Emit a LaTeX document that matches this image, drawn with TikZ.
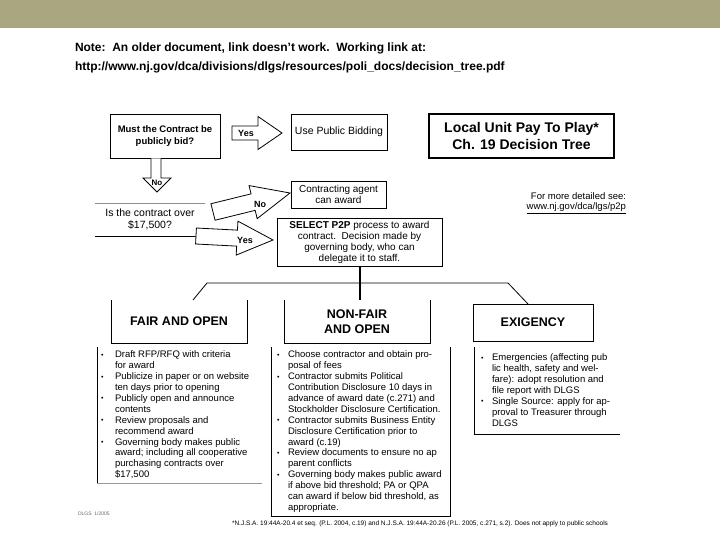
\documentclass[tikz,border=0pt]{standalone}
\usepackage{fontspec}
\setmainfont{Liberation Sans}
\usetikzlibrary{calc}
\definecolor{bandcol}{RGB}{168,167,128}
\newcommand\bul[1]{\makebox[#1][l]{\raisebox{0.6pt}{\fontsize{7}{7}\selectfont\textbullet}}}
\newcommand\ind[1]{\hspace*{#1}}
\newcommand\blockarr[5]{%
  \coordinate (baB) at ($(#2)!#5!(#1)$);
  \draw[arrowline] ($(#1)!#3!90:(#2)$) -- ($(baB)!#3!90:(#2)$) -- ($(baB)!#4!90:(#2)$) -- (#2) -- ($(baB)!#4!-90:(#2)$) -- ($(baB)!#3!-90:(#2)$) -- ($(#1)!#3!-90:(#2)$) -- cycle;}
\begin{document}
\begin{tikzpicture}[x=1pt,y=-1pt,
  every node/.style={inner sep=0pt, outer sep=0pt},
  box/.style={draw, line width=0.8pt, align=center, font=\fontsize{10.5}{11.5}\selectfont},
  bbox/.style={box, font=\bfseries\fontsize{9.5}{12}\selectfont},
  arrowline/.style={draw, line width=0.8pt, fill=white, line join=miter},
  lab/.style={font=\bfseries\fontsize{9}{10}\selectfont},
  head/.style={font=\bfseries\fontsize{12.5}{15}\selectfont, align=center},
  list/.style={align=left, anchor=north west, font=\fontsize{9.5}{10.9}\selectfont},
  frame/.style={line width=0.8pt}]
\useasboundingbox (0,0) rectangle (720,540);
\fill[bandcol] (0,0) rectangle (720,28);
\node[anchor=west, font=\bfseries\fontsize{12}{14}\selectfont] (note1) at (75,48) {Note:\ \ An older document, link doesn't work.\ \ Working link at:};
\node[anchor=west, font=\bfseries\fontsize{12}{14}\selectfont] (note2) at (75,67) {http://www.nj.gov/dca/divisions/dlgs/resources/poli\_docs/decision\_tree.pdf};

% top row
\node[bbox, minimum width=110pt, minimum height=44pt] (must) at (165,136) {Must the Contract be\\publicly bid?};
\node[box, minimum width=96pt, minimum height=36pt] (upb) at (339,132) {Use Public Bidding};
\node[draw, line width=2.5pt, minimum width=185pt, minimum height=44pt, align=center, font=\bfseries\fontsize{14}{16.5}\selectfont] (title) at (521.5,136) {Local Unit Pay To Play*\\Ch. 19 Decision Tree};

\coordinate (y1t) at ($(must.east)+(12,-3)$);
\coordinate (y1h) at ($(upb.west)+(-9,1)$);
\blockarr{y1t}{y1h}{7pt}{16.5pt}{24pt}
\node[lab] (yes1) at (246,133) {Yes};

% down arrow
\coordinate (dtip) at (157,192);
\draw[arrowline] ($(must.south)+(-14,0.4)$) -- ($(must.south)+(-14,20)$) -- ($(must.south)+(-22,20)$) -- (dtip) -- ($(must.south)+(6,20)$) -- ($(must.south)+(-4,20)$) -- ($(must.south)+(-4,0.4)$);
\node[lab, font=\bfseries\fontsize{8}{9}\selectfont] (no1) at (157,183) {No};

% contract question
\node[align=center, minimum width=110pt, minimum height=33pt, font=\fontsize{10.5}{12}\selectfont] (con) at (150,219.5) {Is the contract over\\\$17,500?};
\draw[black!45, line width=0.8pt] (con.north west) -- (con.north east);
\draw[line width=0.8pt] (con.south west) -- ($(con.south east)+(-8,0)$);

\node[box, minimum width=95pt, minimum height=27pt, font=\fontsize{10}{11}\selectfont] (cag) at (338.5,194.5) {Contracting agent\\can award};
\node[box, minimum width=165pt, minimum height=48pt, font=\fontsize{10}{11}\selectfont] (sel) at (359.5,242) {\textbf{SELECT P2P} process to award\\contract.\ \ Decision made by\\governing body, who can\\delegate it to staff.};

\coordinate (n1t) at ($(con.east)+(8,-7.5)$);
\coordinate (n1h) at ($(cag.west)+(-1,-1.5)$);
\blockarr{n1t}{n1h}{8.5pt}{17pt}{38pt}
\node[lab] (no2) at (260,204) {No};

\coordinate (y2t) at ($(con.south east)+(-9,0)$);
\coordinate (y2h) at ($(sel.west)+(-4,-2)$);
\blockarr{y2t}{y2h}{8pt}{17pt}{36pt}
\node[lab] (yes2) at (245,240) {Yes};

\node[anchor=east, font=\fontsize{9.5}{11}\selectfont] (more) at (626,196) {For more detailed see:};
\node[anchor=east, font=\fontsize{9.5}{11}\selectfont] (link) at (626,208) {\underline{www.nj.gov/dca/lgs/p2p}};

% categories
\node[head, minimum width=136pt, minimum height=43pt] (fair) at (179,321.5) {FAIR AND OPEN};
\node[head, minimum width=146pt, minimum height=43pt] (nfo) at (357,321.5) {NON-FAIR\\AND OPEN};
\node[head, draw, line width=0.8pt, minimum width=120pt, minimum height=37pt] (exi) at (533,322.5) {EXIGENCY};
\draw[frame] (fair.north west) -- (fair.south west) -- (fair.south east) -- (fair.north east);
\draw[frame] (nfo.north west) -- (nfo.south west) -- (nfo.south east) -- (nfo.north east);

\draw[line width=2pt] (sel.south) -- (sel.south |- nfo.north);
\coordinate (tl) at (207,283);
\coordinate (tr) at (508,283);
\draw[frame] ($(fair.north)+(14,0)$) -- (tl) -- (tr) -- ($(exi.north)+(-5,0)$);

% lists
\draw[frame] (97,347) -- (97,483);
\draw[frame, black!40] (97,483) -- (262,483);
\draw[frame] (271,347) -- (271,516) -- (450,516) -- (450,347);
\draw[frame] (474,347) -- (474,434) -- (620,434);

\node[list] (lst1) at (101,351) {\bul{14pt}Draft RFP/RFQ with criteria\\\ind{14pt}for award\\\bul{14pt}Publicize in paper or on website\\\ind{14pt}ten days prior to opening\\\bul{14pt}Publicly open and announce\\\ind{14pt}contents\\\bul{14pt}Review proposals and\\\ind{14pt}recommend award\\\bul{14pt}Governing body makes public\\\ind{14pt}award; including all cooperative\\\ind{14pt}purchasing contracts over\\\ind{14pt}\$17,500};

\node[list] (lst2) at (277,351) {\bul{11pt}Choose contractor and obtain pro-\\\ind{11pt}posal of fees\\\bul{11pt}Contractor submits Political\\\ind{11pt}Contribution Disclosure 10 days in\\\ind{11pt}advance of award date (c.271) and\\\ind{11pt}Stockholder Disclosure Certification.\\\bul{11pt}Contractor submits Business Entity\\\ind{11pt}Disclosure Certification prior to\\\ind{11pt}award (c.19)\\\bul{11pt}Review documents to ensure no ap\\\ind{11pt}parent conflicts\\\bul{11pt}Governing body makes public award\\\ind{11pt}if above bid threshold; PA or QPA\\\ind{11pt}can award if below bid threshold, as\\\ind{11pt}appropriate.};

\node[list] (lst3) at (481,354) {\bul{11pt}Emergencies (affecting pub\\\ind{11pt}lic health, safety and wel-\\\ind{11pt}fare): adopt resolution and\\\ind{11pt}file report with DLGS\\\bul{11pt}Single Source: apply for ap-\\\ind{11pt}proval to Treasurer through\\\ind{11pt}DLGS};

\node[anchor=west, font=\fontsize{6.5}{7}\selectfont] (foot) at (232,524) {*N.J.S.A. 19:44A-20.4 et seq. (P.L. 2004, c.19) and N.J.S.A. 19:44A-20.26 (P.L. 2005, c.271, s.2). Does not apply to public schools};
\node[anchor=west, font=\fontsize{5}{6}\selectfont, text=black!60] (dlgs) at (78,514) {DLGS\ \ 1/2005};
\end{tikzpicture}
\end{document}
